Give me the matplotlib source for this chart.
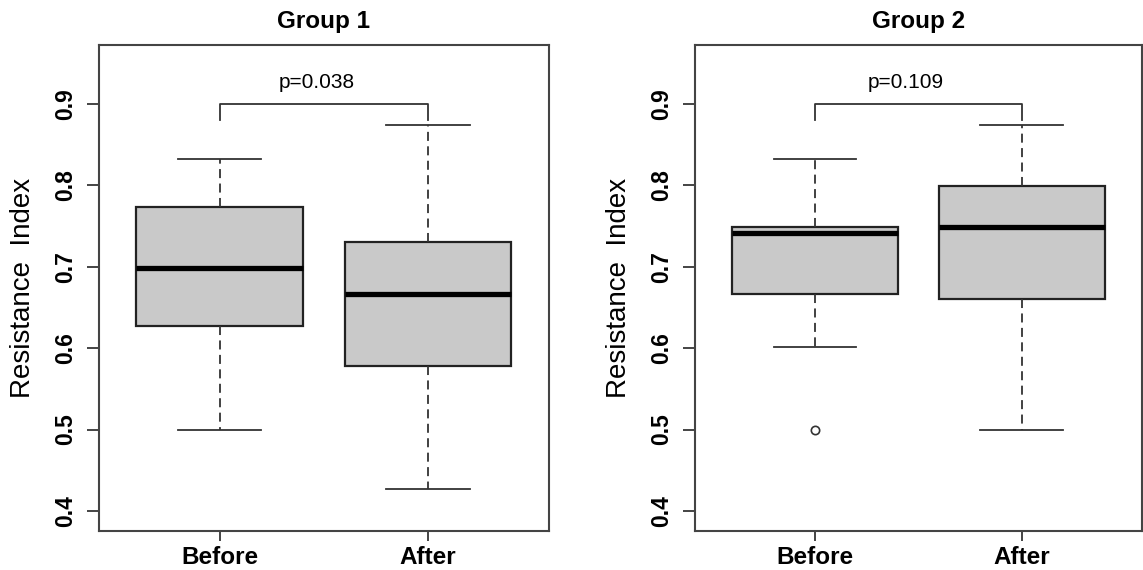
import matplotlib
matplotlib.use("Agg")
import matplotlib.pyplot as plt

plt.rcParams['font.family'] = ['Liberation Sans', 'DejaVu Sans']

# box summaries (Before, After)
groups = ["Group 1", "Group 2"]
conditions = ["Before", "After"]
whislo = [[0.500, 0.427], [0.601, 0.500]]
q1 = [[0.627, 0.578], [0.667, 0.660]]
med = [[0.699, 0.667], [0.741, 0.749]]
q3 = [[0.773, 0.731], [0.749, 0.799]]
whishi = [[0.832, 0.874], [0.832, 0.874]]
fliers = [[[], []], [[0.500], []]]
p_values = ["p=0.038", "p=0.109"]
p_text_x = [1.465, 1.44]

fig = plt.figure(figsize=(11.43, 5.70), dpi=100)
axes = [fig.add_axes([0.0866, 0.0684, 0.3937, 0.8526]),
        fig.add_axes([0.608, 0.0684, 0.3910, 0.8526])]

for g, ax in enumerate(axes):
    stats = []
    for i, name in enumerate(conditions):
        stats.append({
            'label': name,
            'whislo': whislo[g][i],
            'q1': q1[g][i],
            'med': med[g][i],
            'q3': q3[g][i],
            'whishi': whishi[g][i],
            'fliers': fliers[g][i],
        })
    ax.bxp(stats, positions=[1, 2], widths=0.8, patch_artist=True,
           showfliers=True,
           boxprops=dict(facecolor='#c9c9c9', edgecolor='#222222', linewidth=1.6),
           medianprops=dict(color='black', linewidth=3.8, solid_capstyle='butt'),
           whiskerprops=dict(color='#333333', linewidth=1.3, linestyle=(0, (5, 3))),
           capprops=dict(color='#333333', linewidth=1.3),
           capwidths=0.4,
           flierprops=dict(marker='o', markerfacecolor='none', markeredgecolor='#333333',
                           markersize=6, markeredgewidth=1.2))

    # significance bracket
    ax.plot([1, 1, 2, 2], [0.880, 0.900, 0.900, 0.880], color='#333333', linewidth=1.3)
    ax.text(p_text_x[g], 0.926, p_values[g], ha='center', va='center', fontsize=15)

    ax.set_xlim(0.42, 2.58)
    ax.set_ylim(0.3754, 0.9725)
    ax.set_yticks([0.4, 0.5, 0.6, 0.7, 0.8, 0.9])
    ax.set_yticklabels(['0.4', '0.5', '0.6', '0.7', '0.8', '0.9'],
                       fontsize=16.5, fontweight='bold', rotation=90, va='center')
    ax.set_xticks([1, 2])
    ax.set_xticklabels(conditions, fontsize=17.5, fontweight='bold')
    ax.tick_params(axis='y', length=9, width=1.4, color='#444444', pad=7)
    ax.tick_params(axis='x', length=7, width=1.4, color='#444444', pad=4)

    for s in ax.spines.values():
        s.set_color('#444444')
        s.set_linewidth(1.5)

    ax.set_title(groups[g], fontsize=17.5, fontweight='bold', pad=12)
    ax.set_ylabel('Resistance  Index', fontsize=20, va='center')
    ax.yaxis.set_label_coords(-0.169, 0.5)

fig.savefig("out.png", dpi=100)
